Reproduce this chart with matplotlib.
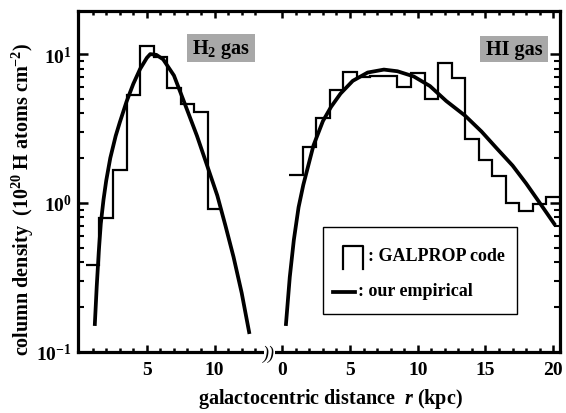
import matplotlib
matplotlib.use("Agg")
import matplotlib.pyplot as plt
import numpy as np
from matplotlib.patches import Rectangle
from matplotlib.lines import Line2D
from matplotlib.ticker import LogLocator, NullFormatter
import matplotlib.transforms as mtransforms

plt.rcParams.update({
    "font.family": "Liberation Serif",
    "font.weight": "bold",
    "mathtext.fontset": "custom",
    "mathtext.rm": "Liberation Serif:bold",
    "mathtext.it": "Liberation Serif:bold:italic",
    "mathtext.bf": "Liberation Serif:bold",
    "axes.linewidth": 2.3,
})

# ---- GALPROP binned column densities (1 kpc bins), 10^20 H atoms cm^-2 ----
h2_edges = [0.5, 1.5, 2.5, 3.5, 4.5, 5.5, 6.5, 7.5, 8.5, 9.5, 10.5]
h2_hist = [0.38, 0.79, 1.65, 5.3, 11.4, 9.5, 5.95, 4.6, 4.1, 0.91]

hi_edges = [0.5, 1.5, 2.5, 3.5, 4.5, 5.5, 6.5, 7.5, 8.5, 9.5, 10.5,
            11.5, 12.5, 13.5, 14.5, 15.5, 16.5, 17.5, 18.5, 19.5, 20.5]
hi_hist = [1.53, 2.39, 3.73, 5.7, 7.57, 7.0, 7.18, 7.18, 6.0, 7.45,
           5.0, 8.7, 6.9, 2.67, 1.95, 1.51, 1.0, 0.88, 0.98, 1.09]

# ---- empirical profiles ----
h2_r = [1.16, 1.30, 1.45, 1.60, 1.80, 2.00, 2.30, 2.70, 3.00, 3.50, 4.00,
        4.50, 5.00, 5.25, 5.70, 6.20, 7.00, 7.70, 8.70, 9.45, 10.20,
        10.80, 11.40, 12.00, 12.55]
h2_n = [0.153, 0.275, 0.468, 0.724, 1.05, 1.41, 2.0, 2.82, 3.47, 4.79, 6.31,
        7.94, 9.44, 10.0, 9.89, 9.23, 7.18, 4.90, 2.82, 1.78, 1.12,
        0.703, 0.432, 0.248, 0.135]

hi_r = [0.27, 0.55, 0.85, 1.20, 1.55, 2.30, 3.00, 3.60, 4.30, 5.20, 6.30,
        7.50, 8.50, 9.70, 10.90, 12.10, 13.50, 14.70, 15.80, 17.00, 18.00,
        19.00, 20.07]
hi_n = [0.153, 0.316, 0.562, 0.933, 1.32, 2.43, 3.55, 4.42, 5.43, 6.61, 7.52,
        7.87, 7.67, 7.08, 6.10, 4.84, 3.85, 3.02, 2.34, 1.78, 1.35,
        1.0, 0.723]

# HI panel shares the axis, shifted to the right
R_OFFSET = 15.0

x_major = [5, 10, R_OFFSET + 0, R_OFFSET + 5, R_OFFSET + 10, R_OFFSET + 15, R_OFFSET + 20]
x_major_labels = ["5", "10", "0", "5", "10", "15", "20"]
x_minor = [k for k in range(1, 14) if k % 5] + [R_OFFSET + k for k in range(1, 20) if k % 5]

W, H = 566, 414


def fx(px):
    return px / W


def fy(py):
    return 1 - py / H


fig = plt.figure(figsize=(W / 100, H / 100), dpi=100)
ax = fig.add_axes([fx(77.5), fy(352.5), (560 - 77.5) / W, (352.5 - 12) / H])

ax.stairs(h2_hist, h2_edges, baseline=None, color="black", lw=1.6)
ax.stairs(hi_hist, np.array(hi_edges) + R_OFFSET, baseline=None, color="black", lw=1.6)
ax.plot(h2_r, h2_n, color="black", lw=2.7)
ax.plot(np.array(hi_r) + R_OFFSET, hi_n, color="black", lw=2.7)

ax.set_yscale("log")
ax.set_ylim(0.1, 19.5)
ax.set_xlim(-0.12, 35.5)

ax.set_xticks(x_major)
ax.set_xticklabels(x_major_labels)
ax.set_xticks(x_minor, minor=True)
ax.set_yticks([0.1, 1, 10])
ax.set_yticklabels([r"$10^{-1}$", r"$10^{0}$", r"$10^{1}$"])
ax.yaxis.set_minor_locator(LogLocator(base=10, subs=np.arange(2, 10)))
ax.yaxis.set_minor_formatter(NullFormatter())

ax.tick_params(axis="both", which="both", direction="in", top=True, right=True)
ax.tick_params(axis="x", which="major", length=5, width=1.8, pad=6.5, labelsize=14)
ax.tick_params(axis="x", which="minor", length=3, width=1.8)
ax.tick_params(axis="y", which="major", length=7, width=1.8, pad=4, labelsize=14)
ax.tick_params(axis="y", which="minor", length=4, width=1.5)

# axis break marker on the bottom spine
blend = mtransforms.blended_transform_factory(ax.transData, ax.transAxes)
ax.add_patch(Rectangle((13.62, -0.02), 0.82, 0.04, transform=blend,
                       facecolor="white", edgecolor="none", clip_on=False, zorder=5))
ax.text(14.03, -0.005, "))", transform=blend, ha="center", va="center",
        fontsize=13, style="italic", fontweight="normal", zorder=6, clip_on=False)

# panel tags
for (x0, y0, x1, y1), label in [((186.7, 35, 255, 63.3), r"H$_2$ gas"),
                                ((480, 36.7, 548.3, 63.3), "HI gas")]:
    fig.patches.append(Rectangle((fx(x0), fy(y1)), (x1 - x0) / W, (y1 - y0) / H,
                                 transform=fig.transFigure, facecolor="#a8a8a8",
                                 edgecolor="none", zorder=3))
    fig.text(fx((x0 + x1) / 2), fy((y0 + y1) / 2), label, ha="center", va="center",
             fontsize=14.5, zorder=4)

# legend
fig.patches.append(Rectangle((fx(322.5), fy(315)), (517 - 322.5) / W, (315 - 228) / H,
                             transform=fig.transFigure, facecolor="white",
                             edgecolor="black", lw=1.0, zorder=3))
fig.lines.append(Line2D([fx(343.3), fx(343.3), fx(362.7), fx(362.7)],
                        [fy(270), fy(246.5), fy(246.5), fy(270)],
                        transform=fig.transFigure, color="black", lw=1.6, zorder=4))
fig.text(fx(368), fy(257), ": GALPROP code", ha="left", va="center", fontsize=13, zorder=4)
fig.lines.append(Line2D([fx(333.3), fx(355)], [fy(293.3), fy(293.3)],
                        transform=fig.transFigure, color="black", lw=2.7, zorder=4))
fig.text(fx(358), fy(292), ": our empirical", ha="left", va="center", fontsize=13, zorder=4)

fig.text(fx(23), fy(199), r"column density  (10$^{20}$ H atoms cm$^{-2}$)",
         rotation=90, ha="center", va="center", fontsize=14.5)
fig.text(fx(330), fy(399), r"galactocentric distance  $r$ (kpc)",
         ha="center", va="center", fontsize=14.5)

fig.savefig("out.png", dpi=100)
